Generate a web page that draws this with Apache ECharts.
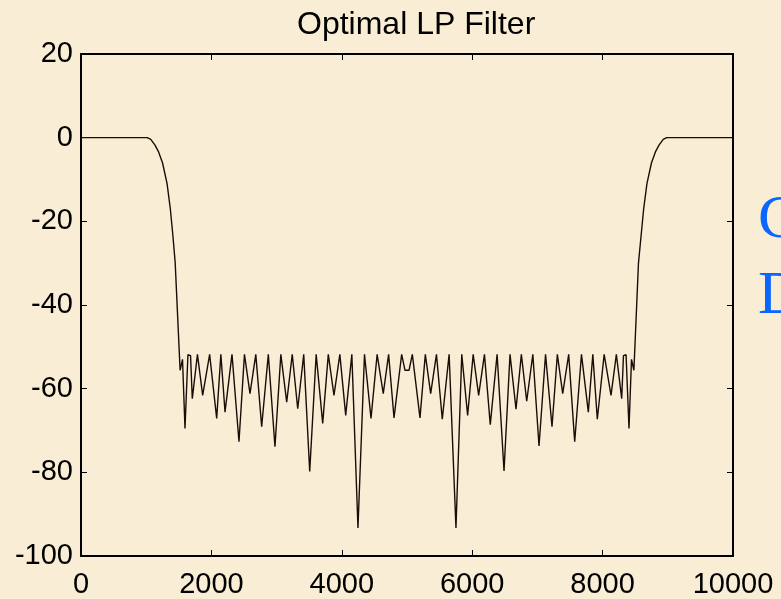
<!DOCTYPE html>
<html>
<head>
<meta charset="utf-8">
<script src="https://cdn.jsdelivr.net/npm/echarts@6/dist/echarts.min.js"></script>
<style>
html,body{margin:0;padding:0;background:#f9eed5;}
#chart{width:781px;height:599px;}
</style>
</head>
<body>
<div id="chart"></div>
<script>
// Tick labels
var xTicks = [0, 2000, 4000, 6000, 8000, 10000];
var yTicks = [20, 0, -20, -40, -60, -80, -100];

// Passband and left transition band (Hz, dB)
var passFreq = [0, 1017, 1070, 1135, 1190, 1250, 1320, 1370, 1410, 1445];
var passDb   = [0, 0, -0.4, -1.8, -3.4, -6.0, -11.0, -17.0, -23.5, -30.0];

// Stopband ripples (Hz, dB)
var stopFreq = [1520, 1557, 1595, 1640, 1680, 1707, 1786, 1866, 1973, 2081, 2145, 2209, 2316, 2423,
  2507, 2592, 2681, 2771, 2873, 2975, 3065, 3155, 3240, 3324, 3416, 3508, 3607, 3707, 3793, 3880,
  3970, 4060, 4154, 4248, 4348, 4448, 4542, 4636, 4718, 4801, 4918, 4969, 5031, 5082, 5199, 5281,
  5363, 5452, 5541, 5646, 5751, 5840, 5930, 6015, 6099, 6188, 6277, 6382, 6488, 6580, 6672, 6754,
  6836, 6930, 7025, 7125, 7224, 7306, 7388, 7480, 7572, 7676, 7781, 7850, 7919, 8024, 8129, 8211,
  8293, 8320, 8360, 8405, 8443, 8480];
var stopDb = [-55.6, -53.0, -69.5, -51.9, -52.1, -62.4, -51.8, -61.6, -51.8, -67.1, -51.8, -65.6, -51.8, -72.7,
  -51.8, -61.2, -51.8, -69.1, -51.8, -73.9, -51.8, -63.2, -51.8, -64.8, -51.8, -79.8, -51.8, -68.3, -51.8, -61.6,
  -51.8, -66.4, -51.8, -93.3, -51.8, -67.1, -51.8, -61.2, -51.8, -67.0, -51.8, -55.6, -55.6, -51.8, -67.0, -51.8,
  -61.2, -51.8, -67.3, -51.8, -93.3, -51.8, -66.4, -51.8, -61.6, -51.8, -68.6, -51.8, -79.7, -51.8, -64.9, -51.8,
  -63.0, -51.8, -73.7, -51.8, -69.1, -51.8, -61.2, -51.8, -72.7, -51.8, -65.6, -51.8, -67.3, -51.8, -61.6, -51.8,
  -62.4, -52.1, -51.9, -69.5, -53.0, -55.6];

// Right transition band and upper passband (Hz, dB)
var upperFreq = [8550, 8590, 8630, 8680, 8750, 8810, 8865, 8930, 8983, 10000];
var upperDb   = [-30.0, -23.5, -17.0, -11.0, -6.0, -3.4, -1.8, -0.4, 0, 0];

var allFreq = passFreq.concat(stopFreq, upperFreq);
var allDb = passDb.concat(stopDb, upperDb);
var seriesData = allFreq.map(function (f, i) { return [f, allDb[i]]; });

var FONT = "'Liberation Sans', Arial, sans-serif";
var axisLineStyle = { color: '#000', width: 2 };
var tickStyle = { show: true, inside: true, length: 6, lineStyle: { color: '#000', width: 1 } };
var plain = function (v) { return String(v); };

var chart = echarts.init(document.getElementById('chart'), null, { renderer: 'canvas' });
chart.setOption({
  backgroundColor: '#f9eed5',
  animation: false,
  title: {
    text: 'Optimal LP Filter',
    left: 297,
    top: 9,
    padding: 0,
    textStyle: { fontFamily: FONT, fontSize: 32, fontWeight: 'normal', color: '#000' }
  },
  grid: { left: 81, right: 48, top: 54, bottom: 41, containLabel: false },
  xAxis: [{
    type: 'value', min: xTicks[0], max: xTicks[xTicks.length - 1], interval: 2000, position: 'bottom',
    axisLine: { show: true, onZero: false, lineStyle: axisLineStyle },
    axisTick: tickStyle,
    axisLabel: { fontFamily: FONT, fontSize: 29, color: '#000', margin: 14, formatter: plain },
    splitLine: { show: false }
  }, {
    type: 'value', min: xTicks[0], max: xTicks[xTicks.length - 1], interval: 2000, position: 'top',
    axisLine: { show: true, onZero: false, lineStyle: axisLineStyle },
    axisTick: tickStyle,
    axisLabel: { show: false },
    splitLine: { show: false }
  }],
  yAxis: [{
    type: 'value', min: yTicks[yTicks.length - 1], max: yTicks[0], interval: 20, position: 'left',
    axisLine: { show: true, onZero: false, lineStyle: axisLineStyle },
    axisTick: tickStyle,
    axisLabel: { fontFamily: FONT, fontSize: 29, color: '#000', margin: 8, padding: [6, 0, 0, 0], formatter: plain },
    splitLine: { show: false }
  }, {
    type: 'value', min: yTicks[yTicks.length - 1], max: yTicks[0], interval: 20, position: 'right',
    axisLine: { show: true, onZero: false, lineStyle: axisLineStyle },
    axisTick: tickStyle,
    axisLabel: { show: false },
    splitLine: { show: false }
  }],
  series: [{
    type: 'line',
    xAxisIndex: 0,
    yAxisIndex: 0,
    data: seriesData,
    showSymbol: false,
    symbol: 'none',
    lineStyle: { color: '#1a0d08', width: 1.4 },
    clip: true
  }],
  graphic: [
    { type: 'text', left: 758, top: 190, style: { text: 'C', fill: '#0a66ff', font: "62px 'Liberation Serif', 'Times New Roman', serif" } },
    { type: 'text', left: 758, top: 266, style: { text: 'D', fill: '#0a66ff', font: "62px 'Liberation Serif', 'Times New Roman', serif" } }
  ]
});
</script>
</body>
</html>
